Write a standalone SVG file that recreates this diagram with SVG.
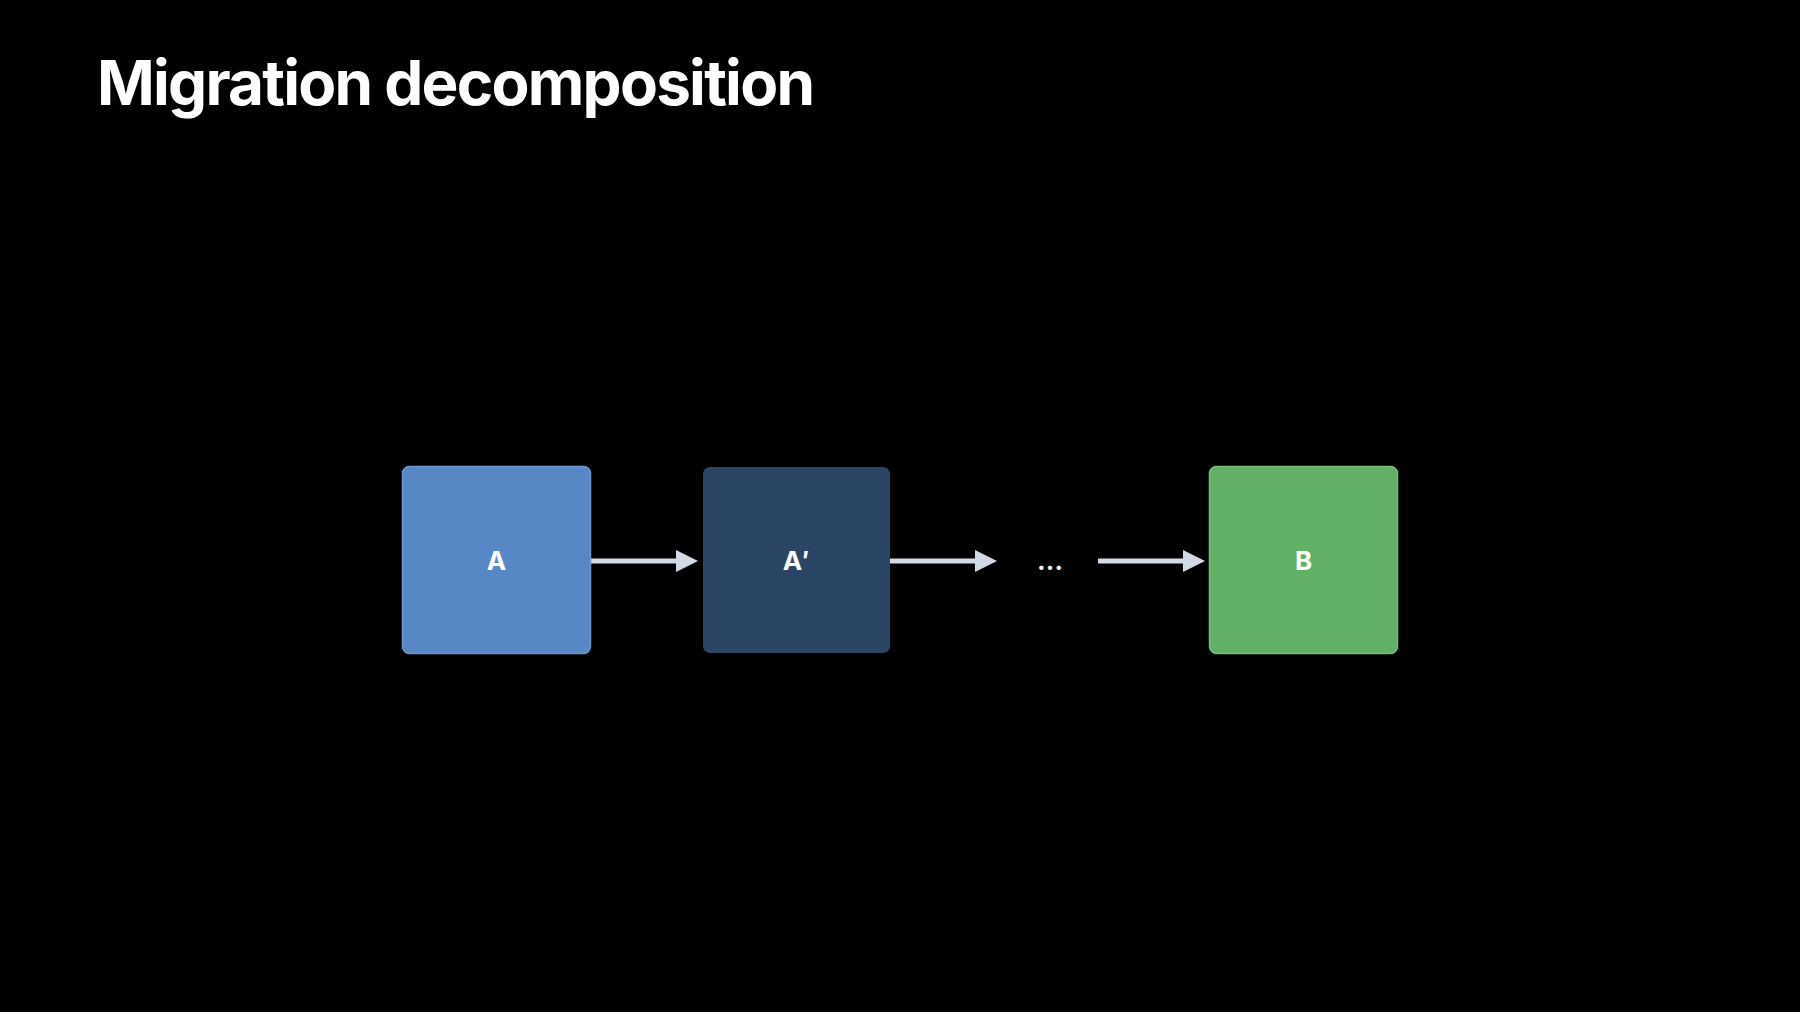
<svg xmlns="http://www.w3.org/2000/svg" width="1800" height="1012" viewBox="0 0 1800 1012">
<defs>
<style>
.title{font-family:Inter,"Liberation Sans",sans-serif;font-weight:700;font-size:62px;fill:#ffffff}
.lbl{font-family:Inter,"Liberation Sans",sans-serif;font-weight:700;font-size:26px;fill:#ffffff;text-anchor:middle}
.edge{stroke:#d3dae5;stroke-width:5;fill:none}
</style>
<marker id="ah" viewBox="0 0 22 22" refX="1" refY="11" markerWidth="22" markerHeight="22" markerUnits="userSpaceOnUse" orient="auto">
<path d="M0,0 L22,11 L0,22 Z" fill="#d3dae5"/>
</marker>
</defs>
<rect width="1800" height="1012" fill="#000000"/>
<text class="title" x="97" y="105" textLength="718" lengthAdjust="spacing">Migration decomposition</text>
<g id="connectors">
<line class="edge" x1="591" y1="561" x2="677" y2="561" marker-end="url(#ah)"/>
<line class="edge" x1="890" y1="561" x2="976" y2="561" marker-end="url(#ah)"/>
<line class="edge" x1="1098" y1="561" x2="1184" y2="561" marker-end="url(#ah)"/>
</g>
<g id="node-a">
<rect x="402.5" y="466.5" width="188" height="187" rx="7" fill="#5887c6" stroke="#6e97cf" stroke-width="1.5"/>
<text class="lbl" x="496.5" y="570">A</text>
</g>
<g id="node-a-prime">
<rect x="703" y="467" width="187" height="186" rx="7" fill="#2b4565"/>
<text class="lbl" x="796" y="570">A′</text>
</g>
<g id="node-ellipsis">
<text class="lbl" x="1050" y="570">…</text>
</g>
<g id="node-b">
<rect x="1209.5" y="466.5" width="188" height="187" rx="7" fill="#62b065" stroke="#77bd79" stroke-width="1.5"/>
<text class="lbl" x="1303.5" y="570">B</text>
</g>
</svg>
